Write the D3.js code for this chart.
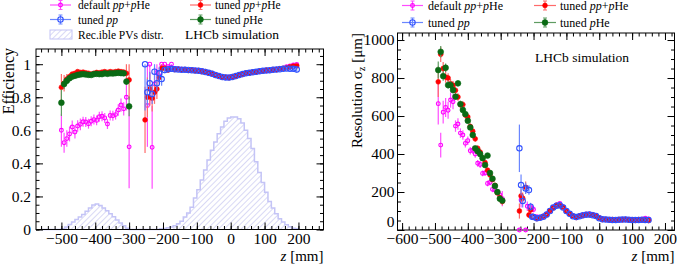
<!doctype html>
<html lang="en">
<head>
<meta charset="utf-8">
<title>Vertex efficiency and resolution vs z</title>
<script src="https://cdnjs.cloudflare.com/ajax/libs/d3/7.8.5/d3.min.js"></script>
<style>
body { margin: 0; background: #fff; }
svg, svg text { font-family: "Liberation Serif", "Times New Roman", serif; fill: #000; }
</style>
</head>
<body>
<svg id="chart" width="677" height="265"></svg>
<script>
/* ---------- data: efficiency panel ---------- */
// histogram of reconstructible PVs, 10 mm bins
var histZ = d3.range(-555, 200, 10);
var histV = [0,0,0,0,0,0,
	0.005,0.015,0.03,0.045,0.06,0.075,0.09,0.11,0.13,0.148,0.155,0.145,0.13,0.113,0.095,0.077,0.058,0.04,0.022,0.008,
	0,0,0,0,0,0,0,0,0,
	0.004,0.006,0.01,0.015,0.022,0.035,0.05,0.075,0.1,0.135,0.19,0.24,0.3,0.36,0.42,0.48,0.53,0.58,0.62,0.655,0.675,
	0.68,0.68,0.67,0.645,0.6,0.55,0.49,0.41,0.345,0.285,0.225,0.17,0.13,0.095,0.065,0.045,0.028,0.016,0.008,0.004,0.002];

// bin centres: SMOG region, gap region, VELO region
var effZ = [].concat(d3.range(-500, -299, 8),
	[-253,-246,-239,-232,-225,-218,-211,-204],
	d3.range(-195, 196, 10));
var effErrFlat = [0.02,0.015,0.012,0.01,0.01,0.008,0.008,0.007,0.007,0.006,
	0.006,0.006,0.005,0.005,0.005,0.005,0.005,0.005,0.005,0.005,
	0.005,0.005,0.005,0.005,0.005,0.005,0.005,0.006,0.006,0.006,
	0.006,0.007,0.007,0.008,0.008,0.009,0.01,0.012,0.015,0.018];

var effDefault = [0.60,0.525,0.55,0.578,0.62,0.59,0.626,0.636,0.652,0.65,0.64,0.655,0.665,0.66,0.682,0.685,0.675,0.638,0.69,0.688,0.695,0.723,0.753,0.73,0.80,0.50,
	null,0.75,1.0,0.497,0.88,0.95,0.93,1.0,
	1.0,0.985,1.0,0.975,0.972,0.97,0.968,0.962,0.967,0.963,0.958,0.96,0.952,0.95,0.94,0.936,0.926,0.924,0.918,0.921,
	0.922,0.93,0.932,0.941,0.943,0.95,0.95,0.955,0.956,0.961,0.96,0.966,0.965,0.97,0.972,0.976,0.985,0.99,0.995,0.998];
var effDefaultErr = [0.10,0.06,0.05,0.045,0.04,0.04,0.035,0.035,0.03,0.03,0.03,0.03,0.03,0.03,0.03,0.03,0.03,0.03,0.03,0.03,0.03,0.035,0.04,0.04,0.08,0.25,
	0,0.25,0.25,0.25,0.1,0.06,0.05,0.03].concat(effErrFlat);

var effTunedPp = new Array(26).fill(null).concat(
	[1.0,0.83,0.885,0.82,0.955,0.885,0.945,0.91,
	0.965,0.97,0.972,0.97,0.968,0.967,0.966,0.965,0.964,0.962,0.96,0.957,0.953,0.948,0.942,0.935,0.928,0.922,0.92,0.92,
	0.923,0.928,0.934,0.94,0.945,0.948,0.951,0.954,0.957,0.96,0.962,0.964,0.966,0.968,0.97,0.972,0.974,0.973,0.972,0.968]);
var effTunedPpErr = new Array(26).fill(0).concat([0.28,0.08,0.07,0.06,0.05,0.05,0.04,0.04], effErrFlat);

var effTunedAll = [0.86,0.885,0.91,0.925,0.94,0.945,0.955,0.95,0.952,0.948,0.945,0.94,0.945,0.95,0.948,0.952,0.955,0.95,0.955,0.952,0.955,0.958,0.955,0.952,0.945,0.905,
	0.663,0.80,0.85,0.794,0.83,0.85,0.92,0.975,
	0.975,0.965,0.972,0.968,0.97,0.966,0.968,0.963,0.965,0.96,0.962,0.955,0.955,0.946,0.944,0.933,0.93,0.921,0.922,0.918,
	0.925,0.926,0.936,0.938,0.947,0.946,0.953,0.952,0.959,0.958,0.964,0.963,0.968,0.967,0.973,0.975,0.978,0.984,0.988,0.99];
var effTunedAllErr = [0.08,0.05,0.03,0.02,0.015,0.012,0.01,0.01,0.01,0.01,0.01,0.01,0.01,0.01,0.01,0.01,0.01,0.01,0.01,0.01,0.01,0.01,0.012,0.015,0.06,0.12,
	0.2,0.12,0.1,0.08,0.07,0.06,0.04,0.03].concat(effErrFlat);

var effTunedPHe = [0.767,0.88,0.9,0.915,0.925,0.93,0.935,0.938,0.94,0.938,0.936,0.935,0.94,0.942,0.94,0.94,0.945,0.942,0.945,0.944,0.946,0.948,0.946,0.945,0.895,0.745]
	.concat(new Array(48).fill(null));
var effTunedPHeErr = [0.08,0.03,0.02,0.015,0.012,0.01,0.01,0.01,0.01,0.01,0.01,0.01,0.01,0.01,0.01,0.01,0.01,0.01,0.01,0.01,0.01,0.01,0.01,0.01,0.02,0.06]
	.concat(new Array(48).fill(0));

/* ---------- data: resolution panel (um) ---------- */
var resZ = [].concat(d3.range(-490, -294, 7.5),
	[-243,-238,-233,-228,-224,-219,-214,-209,-204],
	d3.range(-200, 151, 10));

var resDefault = [665,447,620,645,630,684,675,547,558,510,500,456,470,417,420,400,351,345,298,300,245,250,214,210,200,185,165,
	0,158,null,null,0,125,null,122,114,
	108,70,66,72,84,103,120,132,140,121,102,88,74,70,74,78,83,84,80,76,
	64,58,57,55,55,54,56,56,57,55,55,54,55,57,62,58];
var resDefaultErr = [110,65,60,50,45,40,40,30,30,25,25,22,22,20,20,20,18,18,15,15,15,15,15,15,15,20,40,
	0,40,0,0,0,25,0,20,15,
	15,8,6,5,5,5,5,5,5,5,5,5,4,4,4,4,4,4,4,4,
	4,4,4,4,4,4,4,4,4,4,5,5,6,7,8,10];

var resErrFlat = [6,4,4,3,3,3,3,3,3,3,3,3,3,3,3,3,3,3,3,3,3,3,3,3,3,3,3,3,3,3,3,3,4,4,5,6];

var resTunedPp = new Array(27).fill(null).concat(
	[430,237,153,null,219,null,210,123,70,
	68,62,64,70,82,100,118,128,130,118,100,85,72,68,72,77,80,82,78,74,
	62,57,55,54,53,53,54,55,55,54,53,52,53,54,53,52]);
var resTunedPpErr = new Array(27).fill(0).concat([125,55,35,0,30,0,25,20,10], resErrFlat);

var resTunedAll = [780,925,850,805,800,770,762,735,700,660,660,605,595,545,520,480,430,410,380,355,315,290,265,235,195,170,150,
	100,179,167,null,225,null,79,105,72,
	70,60,66,72,80,102,116,130,128,120,98,84,74,66,74,76,82,80,80,72,
	64,55,56,53,55,52,55,54,56,53,54,51,55,53,54,50];
var resTunedAllErr = [80,40,35,30,25,25,22,20,20,20,18,18,18,16,16,15,15,14,14,13,13,12,12,12,12,15,20,
	40,35,30,0,30,0,15,15,10].concat(resErrFlat);

var resTunedPHe = [842,938,810,854,763,763,737,702,772,663,632,610,575,540,500,430,415,400,378,342,392,300,270,232,200,165,155]
	.concat(new Array(45).fill(null));
var resTunedPHeErr = [45,30,25,22,20,20,18,16,15,15,14,14,13,13,12,12,12,11,11,11,11,10,10,10,10,12,15]
	.concat(new Array(45).fill(0));

/* ---------- view ---------- */
var FONT = '"Liberation Serif", "Times New Roman", serif';
var svg = d3.select('#chart').style('font-family', FONT);

var styles = {
	def: { color: '#ff00ff', err: '#ff4dff', open: true,  r: 1.9 },
	pp:  { color: '#3050ff', err: '#6a86ff', open: true,  r: 2.7 },
	all: { color: '#ff0000', err: '#ff6a6a', open: false, r: 2.4 },
	phe: { color: '#0a6a14', err: '#5f9c62', open: false, r: 2.9 }
};

svg.append('defs').append('pattern')
	.attr('id', 'hatch')
	.attr('patternUnits', 'userSpaceOnUse')
	.attr('width', 4).attr('height', 4)
	.attr('patternTransform', 'rotate(45)')
	.append('line')
	.attr('x1', 0).attr('y1', 0).attr('x2', 0).attr('y2', 4)
	.style('stroke', '#b4b4ec').style('stroke-width', 1);

var effBox = { left: 36, right: 323.5, top: 49, bottom: 229.5 };
var resBox = { left: 397.5, right: 674.5, top: 33, bottom: 230 };

var xEff = d3.scaleLinear().domain([-575, 274]).range([effBox.left, effBox.right]);
var yEff = d3.scaleLinear().domain([0, 1.092]).range([effBox.bottom, effBox.top]);
var xRes = d3.scaleLinear().domain([-614, 229]).range([resBox.left, resBox.right]);
var yRes = d3.scaleLinear().domain([0, 1037]).range([resBox.bottom, resBox.top]);

function axis(gen, tx, ty, vals, size, pad, fmt, fs) {
	var a = svg.append('g')
		.attr('transform', 'translate(' + tx + ',' + ty + ')')
		.call(gen.tickValues(vals).tickSize(size).tickPadding(pad).tickFormat(fmt || ''));
	a.select('.domain').remove();
	a.attr('font-family', FONT).attr('font-size', fs || 15);
	a.selectAll('text').style('font-family', FONT);
	a.selectAll('line').style('stroke', '#000').style('stroke-width', 1);
	return a;
}

function frame(box, x, y, xMaj, xMin, yMaj, yMin, yFmt, yPad) {
	var fx = d3.format('d');
	axis(d3.axisBottom(x), 0, box.bottom, xMin, -3.5, 0);
	axis(d3.axisBottom(x), 0, box.bottom, xMaj, -7, 3, fx, 15.5);
	axis(d3.axisTop(x), 0, box.top, xMin, -3.5, 0);
	axis(d3.axisTop(x), 0, box.top, xMaj, -7, 0);
	axis(d3.axisLeft(y), box.left, 0, yMin, -3.5, 0);
	var yl = axis(d3.axisLeft(y), box.left, 0, yMaj, -7, yPad, yFmt, 15.5);
	axis(d3.axisRight(y), box.right, 0, yMin, -3.5, 0);
	axis(d3.axisRight(y), box.right, 0, yMaj, -7, 0);
	svg.append('rect')
		.attr('x', box.left).attr('y', box.top)
		.attr('width', box.right - box.left).attr('height', box.bottom - box.top)
		.style('fill', 'none').style('stroke', '#000').style('stroke-width', 1);
	return yl;
}

function marker(sel, st) {
	return sel.append('circle')
		.attr('r', st.r)
		.style('fill', st.open ? '#fff' : st.color)
		.style('fill-opacity', st.open ? 0 : 1)
		.style('stroke', st.color)
		.style('stroke-width', st.open ? 1.1 : 0.6);
}

function drawSeries(zs, vs, es, x, y, st, cap) {
	var pts = zs.map(function(z, i){ return { z: z, v: vs[i], e: es[i] }; })
		.filter(function(d){ return d.v !== null; });
	var g = svg.append('g');
	g.selectAll('line').data(pts.filter(function(d){ return d.e > 0; }))
		.enter().append('line')
		.attr('x1', function(d){ return x(d.z); })
		.attr('x2', function(d){ return x(d.z); })
		.attr('y1', function(d){ return y(Math.max(0, d.v - d.e)); })
		.attr('y2', function(d){ return y(cap ? Math.min(cap, d.v + d.e) : d.v + d.e); })
		.style('stroke', st.err).style('stroke-width', 1.2);
	g.selectAll('g.pt').data(pts).enter().append('g')
		.attr('class', 'pt')
		.attr('transform', function(d){ return 'translate(' + x(d.z) + ',' + y(d.v) + ')'; })
		.each(function(){ marker(d3.select(this), st); });
}

function richText(x, y, parts, size, anchor) {
	var t = svg.append('text').attr('x', x).attr('y', y)
		.style('font-family', FONT)
		.attr('font-size', size).attr('text-anchor', anchor || 'start');
	parts.forEach(function(p){
		var s = t.append('tspan').text(p[0]);
		if (p[1] === 'i') s.style('font-style', 'italic');
		if (p[1] === 'sub') s.attr('dy', 3).attr('font-size', size * 0.7);
		if (p[1] === 'up') s.attr('dy', -3);
	});
	return t;
}

function legendEntry(x0, w, cy, st, tx, parts, size) {
	var g = svg.append('g');
	var cx = x0 + w / 2;
	g.append('line').attr('x1', x0).attr('x2', x0 + w).attr('y1', cy).attr('y2', cy)
		.style('stroke', st.err).style('stroke-width', 1.2);
	g.append('line').attr('x1', cx).attr('x2', cx).attr('y1', cy - 4.5).attr('y2', cy + 4.5)
		.style('stroke', st.err).style('stroke-width', 1.2);
	[cy - 4.5, cy + 4.5].forEach(function(yy){
		g.append('line').attr('x1', cx - 2).attr('x2', cx + 2).attr('y1', yy).attr('y2', yy)
			.style('stroke', st.err).style('stroke-width', 1);
	});
	marker(g.append('g').attr('transform', 'translate(' + cx + ',' + cy + ')'), st);
	richText(tx, cy + 4, parts, size);
}

var lblDefault = [['default ', ''], ['pp', 'i'], ['+', ''], ['p', 'i'], ['He', '']];
var lblAll = [['tuned ', ''], ['pp', 'i'], ['+', ''], ['p', 'i'], ['He', '']];
var lblPp = [['tuned ', ''], ['pp', 'i']];
var lblPHe = [['tuned ', ''], ['p', 'i'], ['He', '']];

/* left panel */
var histPts = histZ.map(function(c, i){ return [c - 5, histV[i]]; });
histPts.push([histZ[histZ.length - 1] + 5, histV[histV.length - 1]]);
svg.append('path').datum(histPts)
	.attr('d', d3.area().curve(d3.curveStepAfter)
		.x(function(d){ return xEff(d[0]); })
		.y0(yEff(0)).y1(function(d){ return yEff(d[1]); }))
	.style('fill', 'url(#hatch)');
svg.append('path').datum(histPts)
	.attr('d', d3.line().curve(d3.curveStepAfter)
		.x(function(d){ return xEff(d[0]); })
		.y(function(d){ return yEff(d[1]); }))
	.style('fill', 'none').style('stroke', '#c4c4f6').style('stroke-width', 1.5);

frame(effBox, xEff, yEff, d3.range(-500, 201, 100), d3.range(-560, 275, 20),
	[0, 0.2, 0.4, 0.6, 0.8, 1], d3.range(0, 1.09, 0.05), d3.format('~g'), 5);

drawSeries(effZ, effDefault, effDefaultErr, xEff, yEff, styles.def, 1);
drawSeries(effZ, effTunedAll, effTunedAllErr, xEff, yEff, styles.all, 1);
drawSeries(effZ, effTunedPp, effTunedPpErr, xEff, yEff, styles.pp, 1);
drawSeries(effZ, effTunedPHe, effTunedPHeErr, xEff, yEff, styles.phe, 1);

legendEntry(50, 21, 5, styles.def, 78, lblDefault, 11.5);
legendEntry(190, 21, 5, styles.all, 215, lblAll, 11.5);
legendEntry(50, 21, 19.5, styles.pp, 78, lblPp, 11.5);
legendEntry(190, 21, 19.5, styles.phe, 215, lblPHe, 11.5);
svg.append('rect').attr('x', 50).attr('y', 30).attr('width', 22).attr('height', 9)
	.style('fill', 'url(#hatch)').style('stroke', '#c4c4f6').style('stroke-width', 1);
richText(78, 38.5, [['Rec.ible PVs distr.', '']], 11.5);
richText(185, 38.5, [['LHCb simulation', '']], 13.5);

svg.append('text').attr('transform', 'translate(14,48) rotate(-90)')
	.style('font-family', FONT)
	.attr('text-anchor', 'end').attr('font-size', 16).text('Efficiency');
richText(effBox.right, 260.5, [['z', 'i'], [' [mm]', '']], 15, 'end');

/* right panel */
var resYLabels = frame(resBox, xRes, yRes, d3.range(-600, 201, 100), d3.range(-600, 227, 20),
	d3.range(0, 1001, 200), d3.range(0, 1037, 50), d3.format('d'), 3);
// lowest label sits just above the -600 label
resYLabels.selectAll('.tick').filter(function(d){ return d === 0; })
	.select('text').attr('dy', '-0.25em');

drawSeries(resZ, resDefault, resDefaultErr, xRes, yRes, styles.def);
drawSeries(resZ, resTunedAll, resTunedAllErr, xRes, yRes, styles.all);
drawSeries(resZ, resTunedPp, resTunedPpErr, xRes, yRes, styles.pp);
drawSeries(resZ, resTunedPHe, resTunedPHeErr, xRes, yRes, styles.phe);

legendEntry(402, 21, 5.5, styles.def, 428, lblDefault, 12);
legendEntry(534, 22, 5.5, styles.all, 560, lblAll, 12);
legendEntry(402, 21, 22.5, styles.pp, 428, lblPp, 12);
legendEntry(534, 22, 22.5, styles.phe, 560, lblPHe, 12);
richText(535, 62, [['LHCb simulation', '']], 13.5);

richText(0, 0, [['Resolution σ', ''], ['z', 'sub'], [' [μm]', 'up']], 15, 'end')
	.attr('x', null).attr('y', null)
	.attr('transform', 'translate(362,33) rotate(-90)');
richText(resBox.right, 260.5, [['z', 'i'], [' [mm]', '']], 15, 'end');
</script>
</body>
</html>
